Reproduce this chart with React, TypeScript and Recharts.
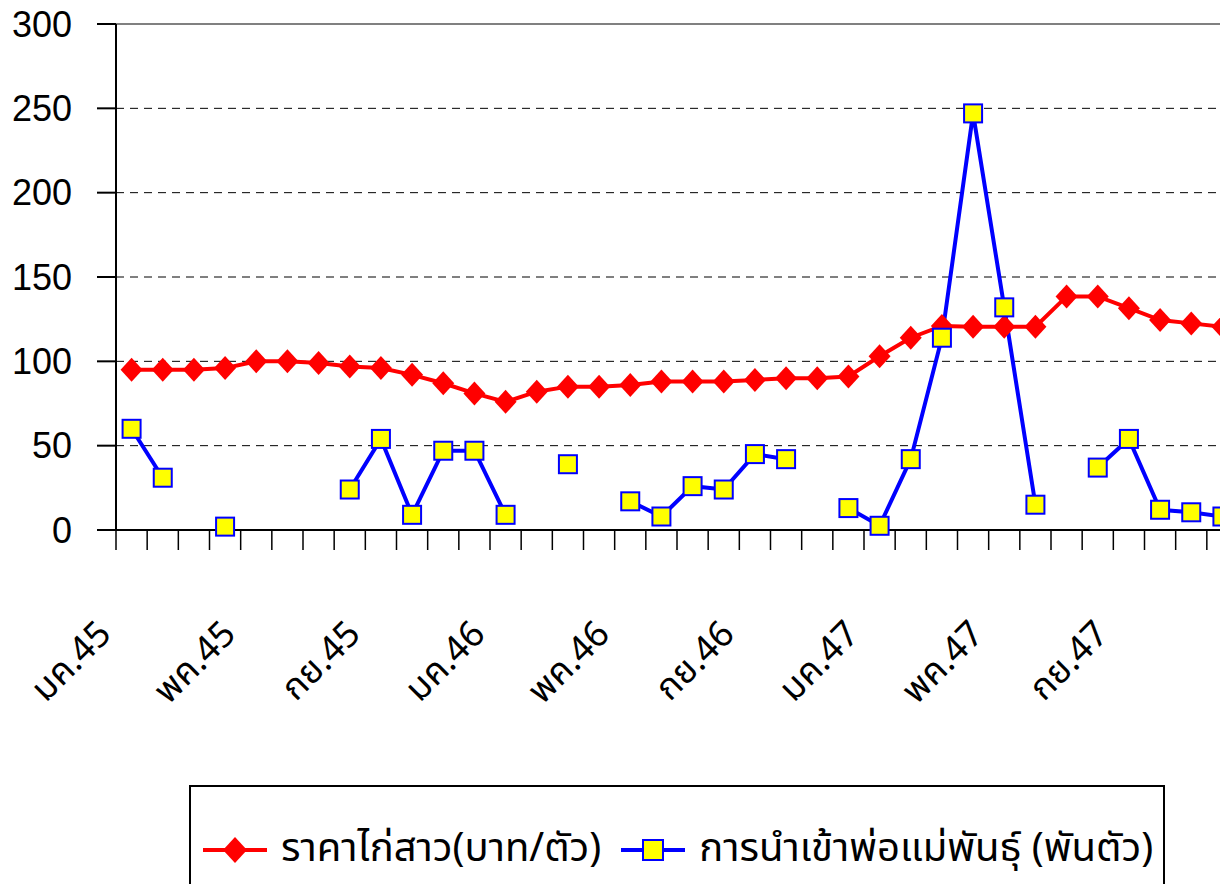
import { LineChart, Line, XAxis, YAxis, CartesianGrid, ReferenceLine } from 'recharts'

// months from มค.45 through ธค.47
const months = [
  'มค.45', 'กพ.45', 'มีค.45', 'เมย.45', 'พค.45', 'มิย.45', 'กค.45', 'สค.45', 'กย.45', 'ตค.45', 'พย.45', 'ธค.45',
  'มค.46', 'กพ.46', 'มีค.46', 'เมย.46', 'พค.46', 'มิย.46', 'กค.46', 'สค.46', 'กย.46', 'ตค.46', 'พย.46', 'ธค.46',
  'มค.47', 'กพ.47', 'มีค.47', 'เมย.47', 'พค.47', 'มิย.47', 'กค.47', 'สค.47', 'กย.47', 'ตค.47', 'พย.47', 'ธค.47',
]

// ราคาไก่สาว (บาท/ตัว)
const price = [
  95, 95, 95, 96, 100, 100, 99, 97, 96, 92, 87, 81,
  76, 82, 85, 85, 86, 88, 88, 88, 89, 90, 90, 91,
  103, 114, 121, 120.5, 120.5, 120.5, 138.5, 138.5, 131.5, 124.5, 122.5, 120.5,
]

// การนำเข้าพ่อแม่พันธุ์ (พันตัว), gaps = no import that month
const imports: (number | null)[] = [
  60, 31, null, 2, null, null, null, 24, 54, 9, 47, 47,
  9, null, 39, null, 17, 8, 26, 24, 45, 42, null, 13,
  2.5, 42, 114, 247, 132, 15, null, 37, 54, 12, 10.5, 8,
]

const yTicks = [0, 50, 100, 150, 200, 250, 300]
const labelEvery = 4

const priceName = 'ราคาไก่สาว(บาท/ตัว)'
const importName = 'การนำเข้าพ่อแม่พันธุ์ (พันตัว)'

const data = months.map((m, i) => ({ x: i + 0.5, month: m, price: price[i], imports: imports[i] }))
const xTicks = months.map((_, i) => i).concat(months.length)

const thaiFont = "'Noto Sans Thai', 'Noto Sans', 'DejaVu Sans', sans-serif"

function Diamond(props: any) {
  const { cx, cy, index } = props
  if (cx == null || cy == null) return <g key={`d${index}`} />
  return (
    <polygon
      key={`d${index}`}
      points={`${cx},${cy - 12} ${cx + 11},${cy} ${cx},${cy + 12} ${cx - 11},${cy}`}
      fill="#ff0000"
    />
  )
}

function Square(props: any) {
  const { cx, cy, index, value } = props
  if (cx == null || cy == null || value == null) return <g key={`s${index}`} />
  return <rect key={`s${index}`} x={cx - 9} y={cy - 9} width={18} height={18} fill="#ffff00" stroke="#0000ff" strokeWidth={2} />
}

function XTick(props: any) {
  const { x, y, payload } = props
  const i = payload.value
  if (i % labelEvery !== 0 || i >= months.length) return <g />
  const px = x - 3
  const py = y + 84
  return (
    <text x={px} y={py} transform={`rotate(-45, ${px}, ${py})`} textAnchor="end" fontSize={36} fontFamily={thaiFont} fill="#000">
      {months[i]}
    </text>
  )
}

export default function App() {
  return (
    <div style={{ position: 'absolute', left: 0, top: 0, width: 1220, height: 884, overflow: 'hidden', background: '#fff' }}>
      <LineChart width={1258} height={770} data={data} margin={{ top: 24, right: 20, left: 0, bottom: 0 }}>
        <CartesianGrid vertical={false} stroke="#000" strokeDasharray="8 6" strokeWidth={1} />
        <ReferenceLine y={300} stroke="#808080" strokeWidth={2} />
        <XAxis
          type="number"
          dataKey="x"
          domain={[0, months.length]}
          ticks={xTicks}
          interval={0}
          tickSize={20}
          height={240}
          axisLine={{ stroke: '#000', strokeWidth: 2 }}
          tickLine={{ stroke: '#000', strokeWidth: 1.5 }}
          tick={XTick}
        />
        <YAxis
          domain={[0, 300]}
          ticks={yTicks}
          interval={0}
          width={116}
          tickSize={19}
          tickMargin={25}
          axisLine={{ stroke: '#000', strokeWidth: 2 }}
          tickLine={{ stroke: '#000', strokeWidth: 2 }}
          tick={{ fontSize: 36, fill: '#000', fontFamily: 'Liberation Sans' }}
        />
        <Line dataKey="price" name={priceName} stroke="#ff0000" strokeWidth={4} dot={Diamond} isAnimationActive={false} />
        <Line dataKey="imports" name={importName} stroke="#0000ff" strokeWidth={4} dot={Square} isAnimationActive={false} />
      </LineChart>
      <div
        style={{
          position: 'absolute', left: 189, top: 785, width: 976, height: 140, boxSizing: 'border-box',
          border: '2px solid #000', display: 'flex', alignItems: 'flex-start', paddingTop: 34, paddingLeft: 12,
          fontFamily: thaiFont, fontSize: 40, color: '#000', whiteSpace: 'nowrap',
        }}
      >
        <svg width={64} height={30} style={{ marginTop: 14 }}>
          <line x1={0} y1={15} x2={64} y2={15} stroke="#ff0000" strokeWidth={4} />
          <polygon points="32,2 44,15 32,28 20,15" fill="#ff0000" />
        </svg>
        <span style={{ marginLeft: 14, lineHeight: '56px' }}>{priceName}</span>
        <svg width={64} height={30} style={{ marginLeft: 20, marginTop: 14 }}>
          <line x1={0} y1={15} x2={64} y2={15} stroke="#0000ff" strokeWidth={4} />
          <rect x={22} y={5} width={20} height={20} fill="#ffff00" stroke="#0000ff" strokeWidth={2} />
        </svg>
        <span style={{ marginLeft: 14, lineHeight: '56px' }}>{importName}</span>
      </div>
    </div>
  )
}
